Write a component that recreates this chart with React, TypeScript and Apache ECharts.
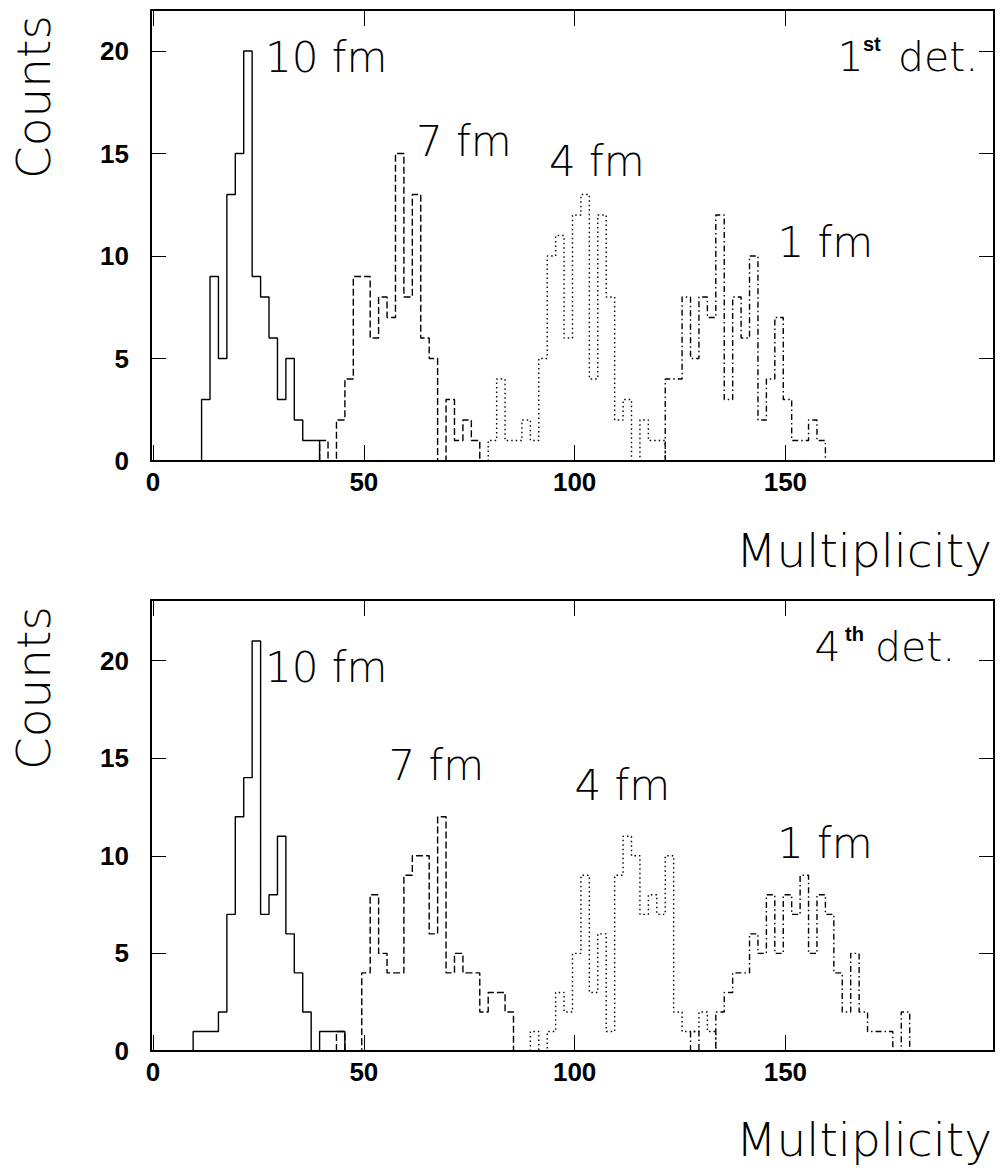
import React, { useEffect, useRef } from "react";
import * as echarts from "echarts";

// ---------- data (counts per 2-unit multiplicity bin, bin start values) ----------
const BIN_WIDTH = 2;
const EDGE_OFFSET = -0.5; // bins run from start-0.5 to start+1.5

// 1st detector
const top10Start = 12;
const top10 = [3, 9, 5, 13, 15, 20, 9, 8, 6, 3, 5, 2, 1, 1];
const top7Start = 40;
const top7 = [1, 0, 2, 4, 9, 9, 6, 8, 7, 15, 8, 13, 6, 5, 0, 3, 1, 2, 1];
const top4Start = 80;
const top4 = [1, 4, 1, 1, 2, 1, 5, 10, 11, 6, 12, 13, 4, 12, 8, 2, 3, 0, 2, 1, 1];
const top1Start = 122;
const top1 = [4, 4, 8, 5, 8, 7, 12, 3, 8, 6, 10, 2, 4, 7, 3, 1, 1, 2, 1];

// 4th detector
const bot10Start = 10;
const bot10 = [1, 1, 1, 2, 7, 12, 14, 21, 7, 8, 11, 6, 4, 2, 0, 1, 1, 1];
const bot7Start = 44;
const bot7 = [1, 0, 0, 4, 8, 5, 4, 4, 9, 10, 10, 6, 12, 4, 5, 4, 4, 2, 3, 3, 2];
const bot4Start = 90;
const bot4 = [1, 0, 1, 3, 2, 5, 9, 3, 6, 1, 9, 11, 10, 7, 8, 7, 10, 2, 1, 1, 2, 1];
const bot1Start = 128;
const bot1 = [1, 0, 0, 2, 3, 4, 4, 6, 5, 8, 5, 8, 7, 9, 5, 8, 7, 4, 2, 5, 2, 1, 1, 1, 0, 2];

const X_TICKS = [0, 50, 100, 150];
const Y_TICKS = [0, 5, 10, 15, 20];
const X_MIN = -0.5;
const X_MAX = 199.5;

const seriesLabels = ["10 fm", "7 fm", "4 fm", "1 fm"];

// ---------- helpers ----------
function outline(start: number, counts: number[]): [number, number][] {
  const pts: [number, number][] = [];
  let x = start + EDGE_OFFSET;
  pts.push([x, 0]);
  counts.forEach((c) => {
    pts.push([x, c]);
    x += BIN_WIDTH;
    pts.push([x, c]);
  });
  pts.push([x, 0]);
  return pts;
}

const STYLES: any[] = [
  { type: "solid" },
  { type: [7, 3] },
  { type: [1.5, 3] },
  { type: [6, 3, 1.5, 3] },
];

const TICK_FONT = {
  color: "#000",
  fontFamily: "Liberation Sans",
  fontWeight: "bold" as const,
  fontSize: 26,
};

const LABEL_FAMILY = '"DejaVu Sans"';

function xAxis(gridIndex: number, position: "top" | "bottom", labels: boolean) {
  return {
    type: "value",
    gridIndex,
    position,
    min: X_MIN,
    max: X_MAX,
    axisLine: { show: true, onZero: false, lineStyle: { color: "#000", width: 2 } },
    axisTick: {
      show: true,
      inside: true,
      length: 16,
      customValues: X_TICKS,
      lineStyle: { color: "#000", width: 1 },
    },
    axisLabel: { show: labels, customValues: X_TICKS, margin: 8, ...TICK_FONT },
    splitLine: { show: false },
  };
}

function yAxis(gridIndex: number, position: "left" | "right", labels: boolean, max: number) {
  return {
    type: "value",
    gridIndex,
    position,
    min: 0,
    max,
    axisLine: { show: true, onZero: false, lineStyle: { color: "#000", width: 2 } },
    axisTick: {
      show: true,
      inside: true,
      length: 15,
      customValues: Y_TICKS,
      lineStyle: { color: "#000", width: 1 },
    },
    axisLabel: { show: labels, customValues: Y_TICKS, margin: 22, ...TICK_FONT },
    splitLine: { show: false },
  };
}

function txt(text: string, x: number, y: number, size: number, opts: any = {}) {
  return {
    type: "text",
    x,
    y,
    rotation: opts.rotation || 0,
    silent: true,
    style: {
      text,
      fill: "#000",
      fontFamily: opts.family || LABEL_FAMILY,
      fontSize: size,
      fontWeight: opts.weight || 200,
      align: opts.align || "left",
      textAlign: opts.align || "left",
      verticalAlign: "middle",
      textVerticalAlign: "middle",
    },
  };
}

const SUP = { weight: "bold", family: "Liberation Sans" };

export default function App() {
  const ref = useRef<HTMLDivElement>(null);

  useEffect(() => {
    document.body.style.margin = "0";
    if (!ref.current) return;
    const chart = echarts.init(ref.current, undefined, { renderer: "svg" });

    const topSets = [
      [top10Start, top10],
      [top7Start, top7],
      [top4Start, top4],
      [top1Start, top1],
    ] as [number, number[]][];
    const botSets = [
      [bot10Start, bot10],
      [bot7Start, bot7],
      [bot4Start, bot4],
      [bot1Start, bot1],
    ] as [number, number[]][];

    const topMax = Math.max(...topSets.flatMap((s) => s[1])) * 1.1;
    const botMax = Math.max(...botSets.flatMap((s) => s[1])) * 1.1;

    const mk = (sets: [number, number[]][], panel: number) =>
      sets.map(([start, counts], i) => ({
        type: "line",
        name: seriesLabels[i] + (panel === 0 ? " (1st)" : " (4th)"),
        xAxisIndex: panel * 2,
        yAxisIndex: panel * 2,
        data: outline(start, counts),
        showSymbol: false,
        symbol: "none",
        silent: true,
        z: 5 - i,
        lineStyle: { color: "#000", width: 1.4, ...STYLES[i] },
      }));

    const option: any = {
      animation: false,
      backgroundColor: "#fff",
      grid: [
        { left: 151, right: 7, top: 10, height: 451, show: false },
        { left: 151, right: 7, top: 600, height: 451, show: false },
      ],
      xAxis: [
        xAxis(0, "bottom", true),
        xAxis(0, "top", false),
        xAxis(1, "bottom", true),
        xAxis(1, "top", false),
      ],
      yAxis: [
        yAxis(0, "left", true, topMax),
        yAxis(0, "right", false, topMax),
        yAxis(1, "left", true, botMax),
        yAxis(1, "right", false, botMax),
      ],
      series: [...mk(topSets, 0), ...mk(botSets, 1)],
      graphic: [
        // axis titles
        txt("Counts", 33, 97, 47, { rotation: Math.PI / 2, align: "center" }),
        txt("Multiplicity", 992, 550, 47, { align: "right" }),
        txt("Counts", 33, 688, 47, { rotation: Math.PI / 2, align: "center" }),
        txt("Multiplicity", 992, 1139, 47, { align: "right" }),
        // top panel labels
        txt(seriesLabels[0], 265, 57, 42),
        txt(seriesLabels[1], 416, 141, 42),
        txt(seriesLabels[2], 549, 161, 42),
        txt(seriesLabels[3], 777.5, 242, 42),
        txt("1", 837.5, 57, 41),
        txt("st", 863, 44, 20, SUP),
        txt("det.", 898, 57, 41),
        // bottom panel labels
        txt(seriesLabels[0], 265, 667, 42),
        txt(seriesLabels[1], 388.5, 765, 42),
        txt(seriesLabels[2], 574.5, 785, 42),
        txt(seriesLabels[3], 777, 843, 42),
        txt("4", 814.5, 647, 41),
        txt("th", 845, 634, 20, SUP),
        txt("det.", 875, 647, 41),
      ],
    };

    chart.setOption(option);
    return () => chart.dispose();
  }, []);

  return <div ref={ref} style={{ width: 1001, height: 1168 }} />;
}
